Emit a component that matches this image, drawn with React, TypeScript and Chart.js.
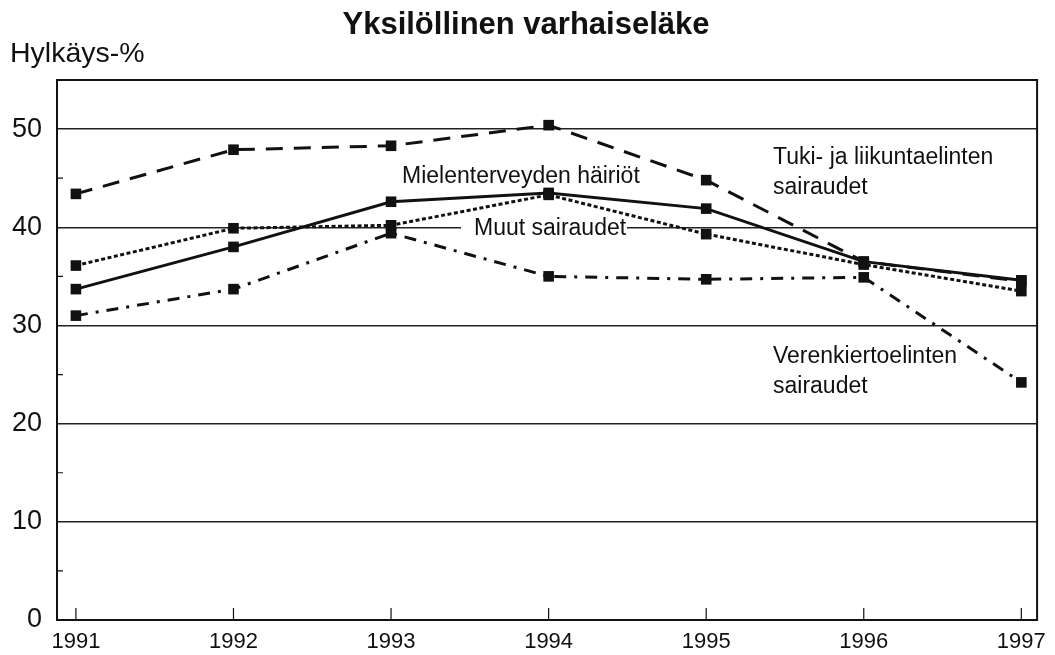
import React, { useEffect, useRef } from "react";
import { Chart, registerables } from "chart.js";

Chart.register(...registerables);

const years = [1991, 1992, 1993, 1994, 1995, 1996, 1997];
const tukiJaLiikunta = [43.4, 47.9, 48.3, 50.4, 44.8, 36.5, 34.5];
const mielenterveys = [33.7, 38.0, 42.6, 43.5, 41.9, 36.5, 34.6];
const muutSairaudet = [36.1, 39.9, 40.2, 43.3, 39.3, 36.2, 33.5];
const verenkierto = [31.0, 33.7, 39.4, 35.0, 34.7, 34.9, 24.2];
const yMajorTicks = [0, 10, 20, 30, 40, 50];
const yMinorTicks = [5, 15, 25, 35, 45];

const titleText = "Yksilöllinen varhaiseläke";
const yAxisTitle = "Hylkäys-%";

const FONT = '"Liberation Sans", Arial, sans-serif';
const INK = "#111";

const toPoints = (vals: number[]) => years.map((x, i) => ({ x, y: vals[i] }));

const decorPlugin = {
  id: "decor",
  beforeDatasetsDraw(chart: any) {
    const { ctx, chartArea, scales } = chart;
    const xs = scales.x;
    const ys = scales.y;
    ctx.save();
    // frame
    ctx.strokeStyle = INK;
    ctx.lineWidth = 2;
    ctx.strokeRect(chartArea.left, chartArea.top, chartArea.right - chartArea.left, chartArea.bottom - chartArea.top);
    // minor y ticks (inside)
    ctx.lineWidth = 1.2;
    ctx.beginPath();
    for (const v of yMinorTicks) {
      const py = ys.getPixelForValue(v);
      ctx.moveTo(chartArea.left, py);
      ctx.lineTo(chartArea.left + 6, py);
    }
    // x ticks (inside, up)
    for (const yr of years) {
      const px = xs.getPixelForValue(yr);
      ctx.moveTo(px, chartArea.bottom);
      ctx.lineTo(px, chartArea.bottom - 12);
    }
    ctx.stroke();

    // annotations
    ctx.font = `23px ${FONT}`;
    ctx.textBaseline = "middle";
    ctx.textAlign = "left";
    // Muut sairaudet with white background
    ctx.fillStyle = "#fff";
    ctx.fillRect(461, 216, 166, 24);
    ctx.fillStyle = INK;
    ctx.fillText("Muut sairaudet", 474, 229);
    ctx.fillText("Mielenterveyden häiriöt", 402, 177);
    ctx.fillText("Tuki- ja liikuntaelinten", 773, 158);
    ctx.fillText("sairaudet", 773, 188);
    ctx.fillText("Verenkiertoelinten", 773, 357);
    ctx.fillText("sairaudet", 773, 387);
    ctx.restore();
  },
  afterDraw(chart: any) {
    const { ctx } = chart;
    ctx.save();
    ctx.fillStyle = INK;
    ctx.textBaseline = "middle";
    ctx.textAlign = "center";
    ctx.font = `bold 31px ${FONT}`;
    ctx.fillText(titleText, 526, 25);
    ctx.textAlign = "left";
    ctx.font = `28.5px ${FONT}`;
    ctx.fillText(yAxisTitle, 10, 54);
    ctx.restore();
  },
};

export default function App() {
  const canvasRef = useRef<HTMLCanvasElement | null>(null);

  useEffect(() => {
    if (!canvasRef.current) return;
    const common = {
      borderColor: INK,
      backgroundColor: INK,
      pointStyle: "rect",
      pointRadius: 7.5,
      pointBorderWidth: 0,
      pointBackgroundColor: INK,
      fill: false,
      tension: 0,
    };
    const chart = new Chart(canvasRef.current, {
      type: "line",
      data: {
        datasets: [
          { ...common, label: "Tuki- ja liikuntaelinten sairaudet", data: toPoints(tukiJaLiikunta), borderWidth: 3, borderDash: [17, 11] },
          { ...common, label: "Muut sairaudet", data: toPoints(muutSairaudet), borderWidth: 3, borderDash: [4, 2.5] },
          { ...common, label: "Verenkiertoelinten sairaudet", data: toPoints(verenkierto), borderWidth: 3, borderDash: [12, 8, 3, 8] },
          { ...common, label: "Mielenterveyden häiriöt", data: toPoints(mielenterveys), borderWidth: 3 },
        ],
      } as any,
      options: {
        animation: false,
        responsive: false,
        layout: { padding: { left: 0, right: 12, top: 80, bottom: 0 } },
        plugins: { legend: { display: false }, tooltip: { enabled: false }, title: { display: false } },
        scales: {
          x: {
            type: "linear",
            min: 1990.88,
            max: 1997.1,
            afterBuildTicks: (s: any) => {
              s.ticks = years.map((v) => ({ value: v }));
            },
            afterFit: (s: any) => {
              s.height = 35;
            },
            grid: { display: false, drawTicks: false },
            border: { display: true, color: INK, width: 2 },
            ticks: {
              padding: 9,
              color: INK,
              font: { family: FONT, size: 22 },
              maxRotation: 0,
              autoSkip: false,
              callback: (v: any) => String(v),
            },
          },
          y: {
            type: "linear",
            min: 0,
            max: 55,
            afterBuildTicks: (s: any) => {
              s.ticks = yMajorTicks.map((v) => ({ value: v }));
            },
            afterFit: (s: any) => {
              s.width = 57;
            },
            grid: { color: "#222", lineWidth: 1.4, drawTicks: false },
            border: { display: true, color: INK, width: 2 },
            ticks: {
              padding: 15,
              color: INK,
              font: { family: FONT, size: 27 },
              callback: (v: any) => String(v),
            },
          },
        },
      } as any,
      plugins: [decorPlugin],
    });
    return () => chart.destroy();
  }, []);

  return (
    <div style={{ position: "fixed", left: 0, top: 0, width: 1055, height: 655, background: "#fff" }}>
      <canvas ref={canvasRef} width={1055} height={655} />
    </div>
  );
}
